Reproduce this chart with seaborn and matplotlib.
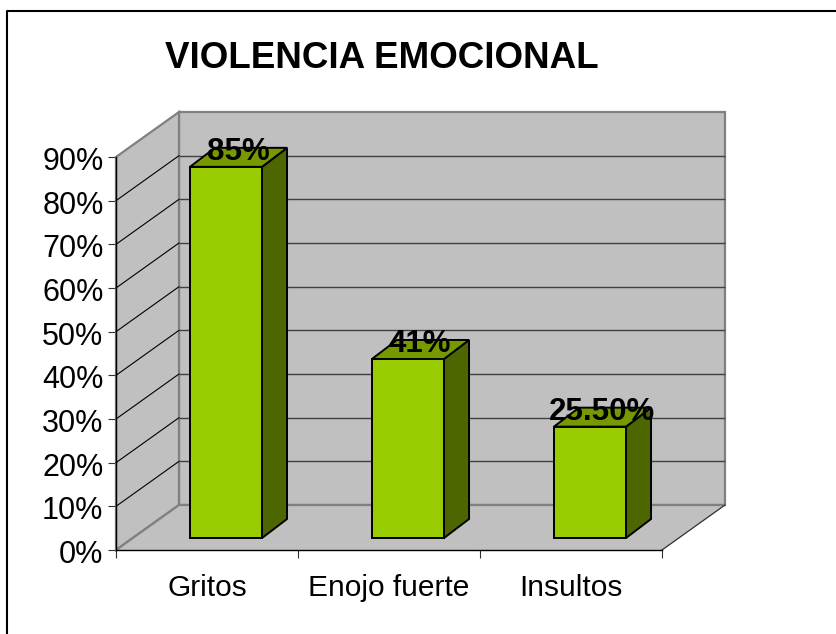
import matplotlib
matplotlib.use("Agg")
import matplotlib.pyplot as plt
from matplotlib.lines import Line2D
from matplotlib.patches import Polygon, Rectangle
from matplotlib.transforms import Affine2D, IdentityTransform
import seaborn as sns

categories = ["Gritos", "Enojo fuerte", "Insultos"]
values = [0.85, 0.41, 0.255]
value_labels = ["85%", "41%", "25.50%"]
y_ticks = [0.0, 0.1, 0.2, 0.3, 0.4, 0.5, 0.6, 0.7, 0.8, 0.9]
y_tick_labels = ["0%", "10%", "20%", "30%", "40%", "50%", "60%", "70%", "80%", "90%"]
title = "VIOLENCIA EMOCIONAL"

W, H = 836, 634
WALL_DX, WALL_DY = 63, 45      # depth of the chart box, pixels
BAR_DX, BAR_DY = 19, 12        # where the bars sit on the floor
SIDE_DX, SIDE_DY = 25, 19      # depth of one bar
GRAY, EDGE = "#C0C0C0", "#808080"
GREEN, GREEN_SIDE, GREEN_TOP = "#99CC00", "#4D6600", "#779900"

sns.set_theme(style="white")
plt.rcParams["font.family"] = ["Liberation Sans", "DejaVu Sans"]

fig = plt.figure(figsize=(W / 100, H / 100), dpi=100)
ax = fig.add_axes([116 / W, 1 - 550 / H, 546 / W, 393 / H])
ax.patch.set_visible(False)

sns.barplot(x=categories, y=values, color=GREEN, saturation=1, width=0.396,
            edgecolor="black", linewidth=1.4, ax=ax, zorder=5)
bars = list(ax.patches)
ax.set_xlim(-0.5, 2.5)
ax.set_ylim(0, 0.9)
ax.autoscale(False)


def shift(dx, dy):
    return ax.transData + Affine2D().translate(dx, dy)


def px(x, y, dx=0, dy=0):
    a, b = ax.transData.transform((x, y))
    return a + dx, b + dy


def poly(points, face, edge, lw, z):
    ax.add_patch(Polygon(points, closed=True, facecolor=face, edgecolor=edge, linewidth=lw,
                         transform=IdentityTransform(), clip_on=False, zorder=z))


def line(p0, p1, color, lw, z):
    ax.add_line(Line2D([p0[0], p1[0]], [p0[1], p1[1]], color=color, linewidth=lw,
                       transform=IdentityTransform(), clip_on=False, zorder=z))


# walls and floor
ax.add_patch(Rectangle((-0.5, 0), 3, 0.9, facecolor=GRAY, edgecolor=EDGE, linewidth=1.6,
                       transform=shift(WALL_DX, WALL_DY), clip_on=False, zorder=1))
poly([px(-0.5, 0), px(-0.5, 0.9), px(-0.5, 0.9, WALL_DX, WALL_DY), px(-0.5, 0, WALL_DX, WALL_DY)],
     GRAY, EDGE, 1.6, 1)
poly([px(-0.5, 0), px(2.5, 0), px(2.5, 0, WALL_DX, WALL_DY), px(-0.5, 0, WALL_DX, WALL_DY)],
     GRAY, "none", 0, 1)

# gridlines
for tick in y_ticks[1:-1]:
    ax.hlines(tick, -0.5, 2.5, color="#404040", linewidth=1.0,
              transform=shift(WALL_DX, WALL_DY), clip_on=False, zorder=2)
    line(px(-0.5, tick), px(-0.5, tick, WALL_DX, WALL_DY), "black", 0.8, 2)
ax.hlines(0, -0.5, 2.5, color=EDGE, linewidth=1.6, transform=shift(WALL_DX, WALL_DY),
          clip_on=False, zorder=2)
line(px(-0.5, 0), px(-0.5, 0, WALL_DX, WALL_DY), EDGE, 1.6, 2)
line(px(2.5, 0), px(2.5, 0, WALL_DX, WALL_DY), "#303030", 0.9, 2)

# bars: front comes from seaborn, then the side and top faces
for bar in bars:
    bar.set_transform(shift(BAR_DX, BAR_DY))
    bar.set_clip_on(False)
    x0, x1, top = bar.get_x(), bar.get_x() + bar.get_width(), bar.get_height()
    base = (BAR_DX, BAR_DY)
    deep = (BAR_DX + SIDE_DX, BAR_DY + SIDE_DY)
    poly([px(x1, 0, *base), px(x1, top, *base), px(x1, top, *deep), px(x1, 0, *deep)],
         GREEN_SIDE, "black", 1.4, 4)
    poly([px(x0, top, *base), px(x1, top, *base), px(x1, top, *deep), px(x0, top, *deep)],
         GREEN_TOP, "black", 1.4, 4)

for bar, label in zip(bars, value_labels):
    ax.annotate(label, (bar.get_x() + bar.get_width() / 2, bar.get_height()),
                xycoords=shift(BAR_DX + 12, BAR_DY), xytext=(0, 10.5), textcoords="offset points",
                ha="center", va="center", fontsize=22.5, fontweight="bold", color="black",
                annotation_clip=False, zorder=6)

# axes furniture
sns.despine(ax=ax, top=True, right=True)
for side in ["left", "bottom"]:
    ax.spines[side].set_color("black")
    ax.spines[side].set_linewidth(1.0)
    ax.spines[side].set_zorder(3)
ax.set_yticks(y_ticks)
ax.set_yticklabels(y_tick_labels, fontsize=22)
ax.set_xticks([-0.5, 0.5, 1.5, 2.5])
ax.set_xticklabels([])
ax.set_xticks([0, 1, 2], minor=True)
ax.set_xticklabels(categories, minor=True, fontsize=21.5)
ax.tick_params(axis="y", which="major", left=True, length=6, width=0.8, color="#303030", pad=3, labelcolor="black")
ax.tick_params(axis="x", which="major", bottom=True, length=6, width=0.8, color="#303030")
ax.tick_params(axis="x", which="minor", bottom=False, length=0, pad=17, labelcolor="black")
for tick_label in ax.get_yticklabels():
    tick_label.set_transform(tick_label.get_transform() + Affine2D().translate(0, -1.5))
ax.set_xlabel("")
ax.set_ylabel("")

fig.text(381.5 / W, 1 - 59 / H, title, ha="center", va="center", fontsize=26.5, fontweight="bold", color="black")

# outer frame, only left and top show in the crop
fig.add_artist(Line2D([7 / W, 7 / W, 1], [0, 1 - 11 / H, 1 - 11 / H], color="black", linewidth=1.5))

fig.savefig("out.png", dpi=100)
plt.close(fig)
